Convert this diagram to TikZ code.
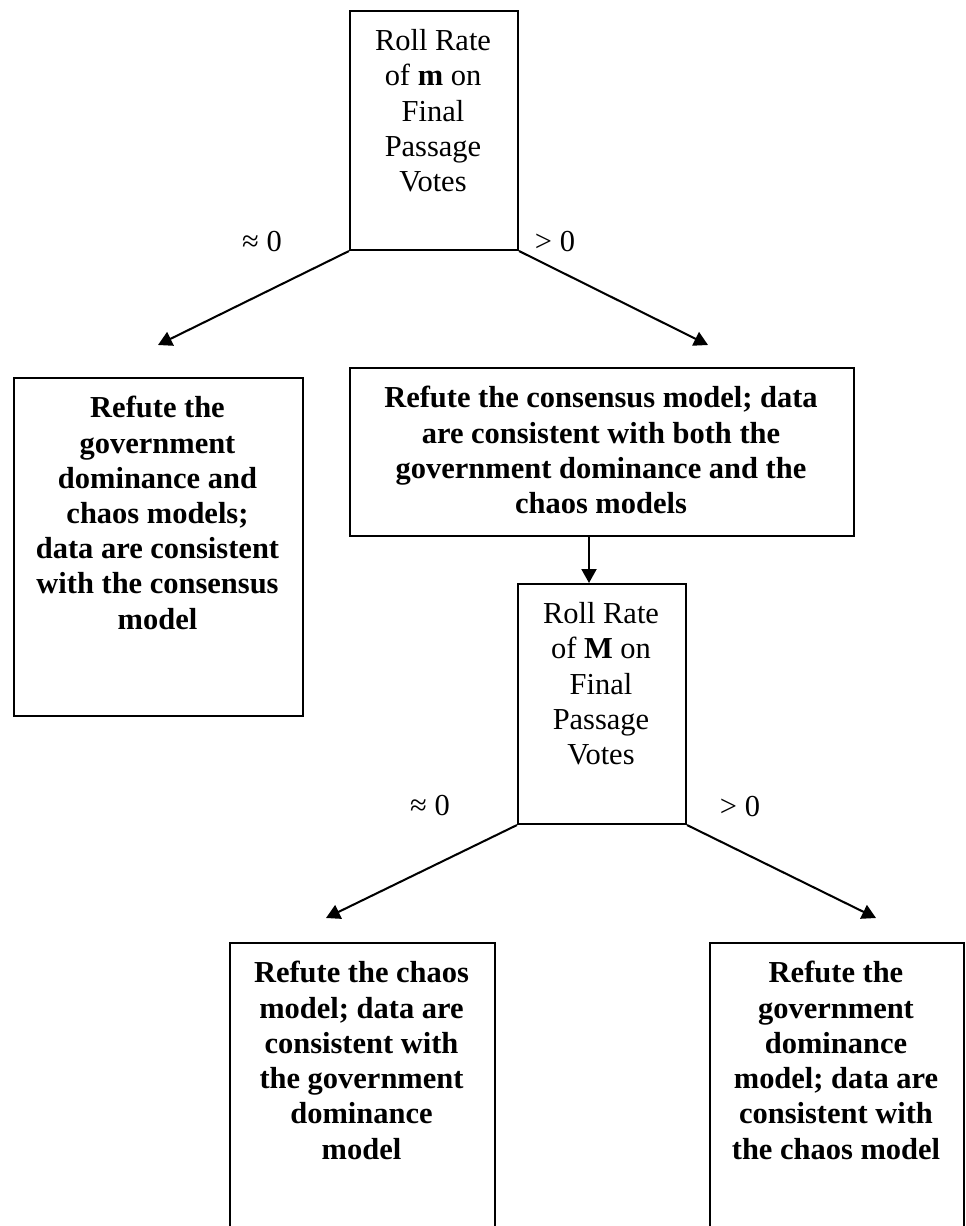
\documentclass[tikz,border=0pt]{standalone}
\usepackage{fontspec}
\setmainfont{Liberation Serif}
\usetikzlibrary{arrows.meta}
\newdimen\pxu
\pxu=0.3937pt
\begin{document}
\begin{tikzpicture}[
  x=0.3937pt, y=-0.3937pt,
  box/.style={draw, line width=0.8pt, inner sep=0pt, anchor=north west},
  txt/.style={anchor=north, align=center, inner sep=0pt,
    font=\fontsize{12}{13.86}\selectfont},
  bold/.style={txt, font=\fontsize{12}{13.86}\selectfont\bfseries},
  lbl/.style={inner sep=0pt, font=\fontsize{12}{13.86}\selectfont},
  arr/.style={line width=0.8pt, -{Triangle[length=5.5pt, width=5.9pt]}}
]
\useasboundingbox (0,0) rectangle (965,1226);
\clip (0,0) rectangle (965,1226);

% decision boxes and outcome boxes
\node[box, minimum width=168*\pxu, minimum height=239*\pxu] (top) at (349,10) {};
\node[box, minimum width=289*\pxu, minimum height=338*\pxu] (lft) at (13,377) {};
\node[box, minimum width=504*\pxu, minimum height=168*\pxu] (mid) at (349,367) {};
\node[box, minimum width=168*\pxu, minimum height=240*\pxu] (sec) at (517,583) {};
\node[box, minimum width=265*\pxu, minimum height=330*\pxu] (bl) at (229,942) {};
\node[box, minimum width=254*\pxu, minimum height=330*\pxu] (br) at (709,942) {};

% box texts
\node[txt] (topT) at (433,29) {Roll Rate\\of \textbf{m} on\\Final\\Passage\\Votes};
\node[bold] (lftT) at (157.5,396) {Refute the\\government\\dominance and\\chaos models;\\data are consistent\\with the consensus\\model};
\node[bold] (midT) at (601,386) {Refute the consensus model; data\\are consistent with both the\\government dominance and the\\chaos models};
\node[txt] (secT) at (601,602) {Roll Rate\\of \textbf{M} on\\Final\\Passage\\Votes};
\node[bold] (blT) at (361.5,961) {Refute the chaos\\model; data are\\consistent with\\the government\\dominance\\model};
\node[bold] (brT) at (836,961) {Refute the\\government\\dominance\\model; data are\\consistent with\\the chaos model};

% branch labels
\node[lbl] (a1) at (262,242) {≈ 0};
\node[lbl] (b1) at (555,242) {> 0};
\node[lbl] (a2) at (430,806) {≈ 0};
\node[lbl] (b2) at (740,807) {> 0};

% arrow ends
\coordinate (t1) at (158,345);
\coordinate (t2) at (708,345);
\coordinate (t3) at (326,918);
\coordinate (t4) at (876,918);
\coordinate (vx) at (589,0);

% connectors
\draw[arr] (top.south west) -- (t1);
\draw[arr] (top.south east) -- (t2);
\draw[arr] (mid.south -| vx) -- (sec.north -| vx);
\draw[arr] (sec.south west) -- (t3);
\draw[arr] (sec.south east) -- (t4);
\end{tikzpicture}
\end{document}
